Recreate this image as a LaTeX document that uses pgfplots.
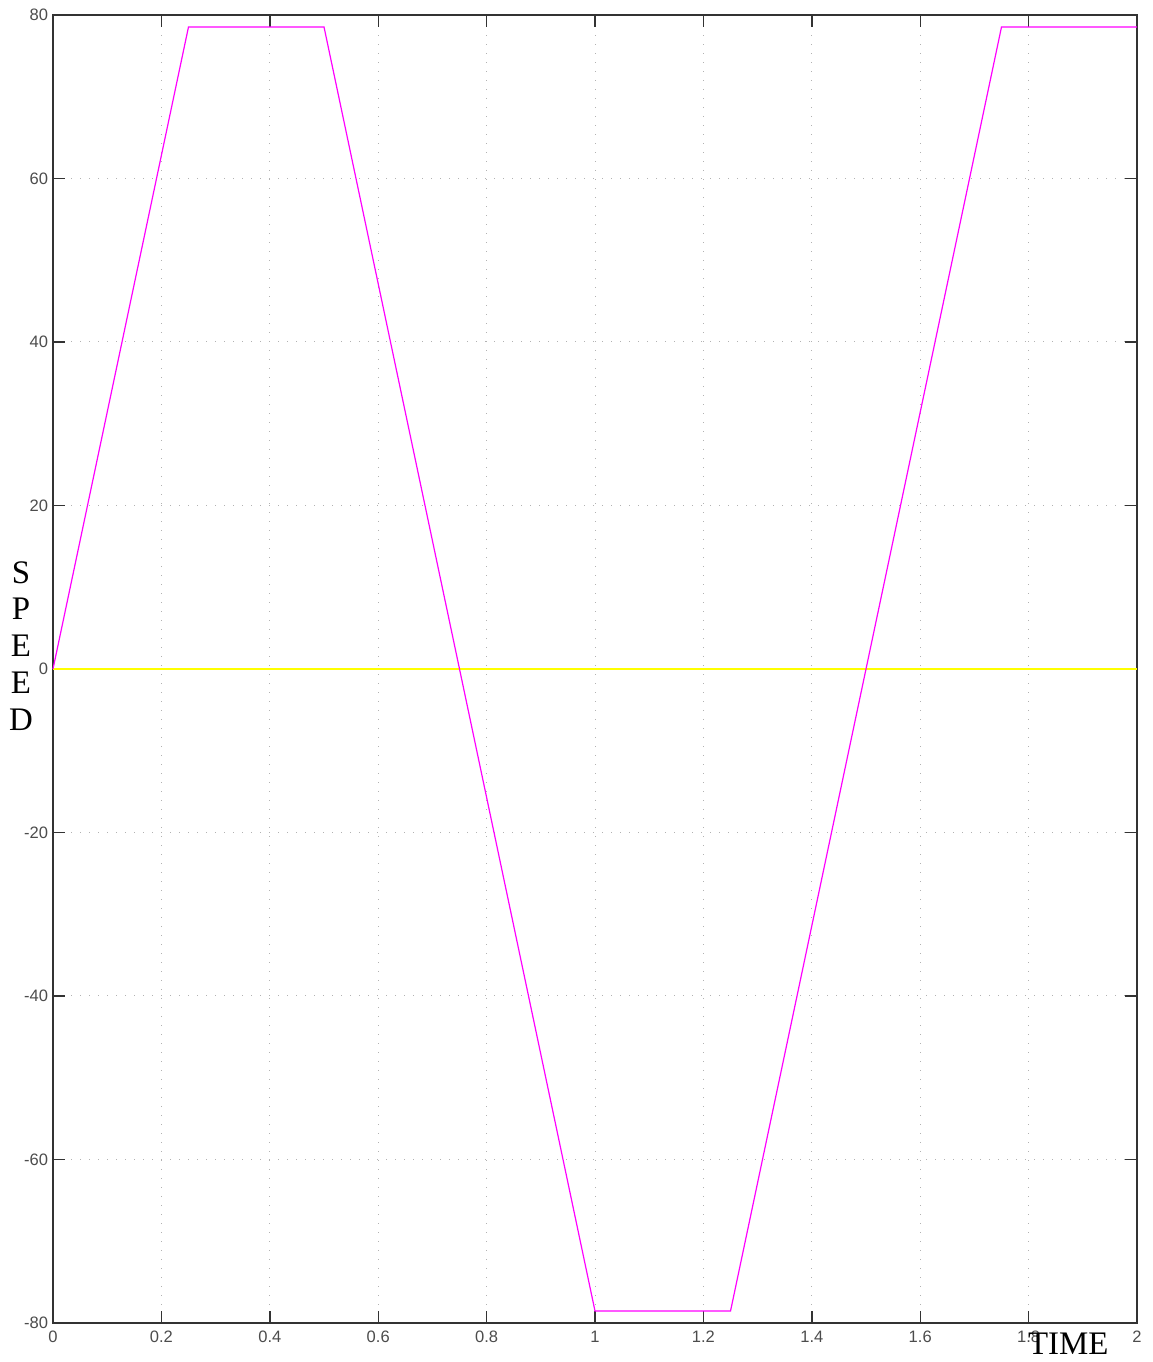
\documentclass[border=0pt]{standalone}
\usepackage{fontspec}
\setmainfont{Liberation Serif}
\setsansfont{Liberation Sans}
\usepackage{pgfplots}
\pgfplotsset{compat=1.18}
\definecolor{speedline}{RGB}{255,0,255}
\definecolor{refline}{RGB}{255,255,0}

\begin{document}
\begin{tikzpicture}
\begin{axis}[
  scale only axis,
  width=542bp, height=654bp,
  xmin=0, xmax=2, ymin=-80, ymax=80,
  xtick={0,0.2,...,2.01},
  ytick={-80,-60,...,80},
  xticklabels={0,0.2,0.4,0.6,0.8,1,1.2,1.4,1.6,1.8,2},
  scaled x ticks=false,
  /pgf/number format/assume math mode=true,
  tick label style={font=\sffamily\fontsize{8.3}{9}\selectfont, text=black!70},
  xticklabel style={yshift=-0.5bp},
  yticklabel style={xshift=1bp},
  tick align=inside,
  major tick length=6bp,
  tick style={black!80, line width=0.7bp},
  axis line style={black!80, line width=0.8bp},
  grid=major,
  major grid style={black!30, line width=0.5bp, dash pattern=on 0.5bp off 4bp},
  xtick pos=both, ytick pos=both,
  clip=false,
]
  % reference level
  \addplot[refline, line width=0.8bp] coordinates {(0,0) (2,0)};
  % speed profile
  \addplot[speedline, line width=0.6bp] coordinates {
    (0,0) (0.25,78.54) (0.5,78.54) (1.0,-78.54) (1.25,-78.54) (1.75,78.54) (2,78.54)
  };
  \node[font=\fontsize{16.5}{18.5}\selectfont, anchor=base, inner sep=0pt]
    at ([yshift=-16bp]rel axis cs:0.9365,0) {TIME};
  \node[font=\fontsize{16.5}{18.5}\selectfont, anchor=center, inner sep=0pt, align=center]
    at ([xshift=-16bp]rel axis cs:0,0.5176) {S\\P\\E\\E\\D};
\end{axis}
\pgfresetboundingbox
\path ([shift={(-26.5bp,-19.5bp)}]current axis.south west)
  rectangle ([shift={(7.5bp,7.5bp)}]current axis.north east);
\end{tikzpicture}
\end{document}
